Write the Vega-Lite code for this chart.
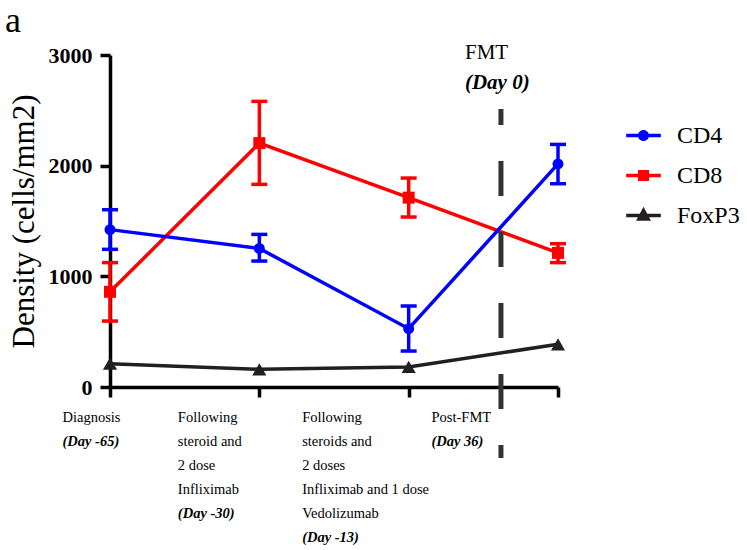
{
  "$schema": "https://vega.github.io/schema/vega-lite/v6.json",
  "width": 448,
  "height": 332,
  "autosize": "none",
  "padding": {"left": 110, "top": 55, "right": 189, "bottom": 163},
  "background": "white",
  "config": {
    "view": {"stroke": null},
    "font": "Liberation Serif",
    "axis": {"labelFont": "Liberation Serif", "titleFont": "Liberation Serif"},
    "legend": {"labelFont": "Liberation Serif", "labelFontSize": 24, "labelColor": "black"},
    "style": {"guide-label": {"font": "Liberation Serif"}, "guide-title": {"font": "Liberation Serif"}},
    "text": {"font": "Liberation Serif"}
  },
  "data": {
    "values": [
      {"series": "FoxP3", "stage": 0, "mean": 211},
      {"series": "FoxP3", "stage": 1, "mean": 160},
      {"series": "FoxP3", "stage": 2, "mean": 181},
      {"series": "FoxP3", "stage": 3, "mean": 386},
      {"series": "CD8", "stage": 0, "mean": 860, "lo": 596, "hi": 1124},
      {"series": "CD8", "stage": 1, "mean": 2204, "lo": 1831, "hi": 2581},
      {"series": "CD8", "stage": 2, "mean": 1711, "lo": 1536, "hi": 1888},
      {"series": "CD8", "stage": 3, "mean": 1212, "lo": 1124, "hi": 1295},
      {"series": "CD4", "stage": 0, "mean": 1422, "lo": 1244, "hi": 1602},
      {"series": "CD4", "stage": 1, "mean": 1252, "lo": 1138, "hi": 1379},
      {"series": "CD4", "stage": 2, "mean": 527, "lo": 325, "hi": 732},
      {"series": "CD4", "stage": 3, "mean": 2016, "lo": 1837, "hi": 2192}
    ]
  },
  "layer": [
    {
      "mark": {"type": "line", "strokeWidth": 3.5},
      "encoding": {
        "x": {
          "field": "stage", "type": "quantitative",
          "scale": {"domain": [0, 3], "nice": false, "zero": false},
          "axis": {
            "orient": "bottom", "values": [0, 1, 2, 3], "title": null, "grid": false,
            "domainColor": "black", "domainWidth": 3.5,
            "tickColor": "black", "tickWidth": 3.5, "tickSize": 10,
            "labelFont": "Liberation Serif", "labelFontSize": 14.5, "labelColor": "black",
            "labelAlign": "left", "labelBaseline": "top", "labelPadding": 13, "labelLineHeight": 24,
            "labelFlush": false, "labelOverlap": false, "labelBound": false,
            "labelOffset": {"condition": [{"test": "datum.value == 0", "value": -48}, {"test": "datum.value == 1", "value": -82}, {"test": "datum.value == 2", "value": -107}], "value": -127},
            "labelExpr": "datum.value == 0 ? 'Diagnosis' : datum.value == 1 ? ['Following','steroid and','2 dose','Infliximab'] : datum.value == 2 ? ['Following','steroids and','2 doses','Infliximab and 1 dose','Vedolizumab'] : 'Post-FMT'"
          }
        },
        "y": {
          "field": "mean", "type": "quantitative",
          "scale": {"domain": [0, 3000], "nice": false},
          "axis": {
            "values": [0, 1000, 2000, 3000], "format": "d", "title": "Density (cells/mm2)", "grid": false,
            "titleFont": "Liberation Serif", "titleFontSize": 31, "titleFontWeight": "normal", "titleColor": "black", "titlePadding": 8,
            "labelFont": "Liberation Serif", "labelFontSize": 22, "labelFontWeight": "bold", "labelColor": "black", "labelPadding": 8,
            "tickSize": 10, "tickWidth": 3.5, "tickColor": "black",
            "domainColor": "black", "domainWidth": 3.5
          }
        },
        "color": {
          "field": "series", "type": "nominal",
          "scale": {"domain": ["CD4", "CD8", "FoxP3"], "range": ["#0000ff", "#ff0000", "#231f20"]},
          "legend": null
        }
      }
    },
    {
      "transform": [{"filter": "isValid(datum.lo)"}],
      "mark": {"type": "errorbar", "thickness": 3.5, "opacity": 1, "ticks": {"size": 16, "thickness": 3.5, "opacity": 1}, "rule": {"opacity": 1}},
      "encoding": {
        "x": {"field": "stage", "type": "quantitative", "axis": null},
        "y": {"field": "lo", "type": "quantitative", "axis": null},
        "y2": {"field": "hi"},
        "color": {
          "field": "series", "type": "nominal",
          "scale": {"domain": ["CD4", "CD8", "FoxP3"], "range": ["#0000ff", "#ff0000", "#231f20"]},
          "legend": null
        }
      }
    },
    {
      "transform": [{"filter": "datum.series == 'FoxP3'"}],
      "mark": {"type": "point", "filled": true, "opacity": 1, "shape": "triangle-up", "size": 200, "color": "#231f20"},
      "encoding": {
        "x": {"field": "stage", "type": "quantitative", "axis": null},
        "y": {"field": "mean", "type": "quantitative", "axis": null}
      }
    },
    {
      "transform": [{"filter": "datum.series == 'CD8'"}],
      "mark": {"type": "point", "filled": true, "opacity": 1, "shape": "square", "size": 144, "color": "#ff0000"},
      "encoding": {
        "x": {"field": "stage", "type": "quantitative", "axis": null},
        "y": {"field": "mean", "type": "quantitative", "axis": null}
      }
    },
    {
      "transform": [{"filter": "datum.series == 'CD4'"}],
      "mark": {"type": "point", "filled": true, "opacity": 1, "shape": "circle", "size": 120, "color": "#0000ff"},
      "encoding": {
        "x": {
          "field": "stage", "type": "quantitative",
          "axis": {
            "orient": "bottom", "values": [0, 1, 2, 3], "title": null, "grid": false,
            "domain": false, "tickOpacity": 0, "tickSize": 10,
            "labelFont": "Liberation Serif", "labelFontSize": 14.5, "labelFontStyle": "italic", "labelFontWeight": "bold", "labelColor": "black",
            "labelAlign": "left", "labelBaseline": "top",
            "labelPadding": {"condition": [{"test": "datum.value == 1", "value": 109}, {"test": "datum.value == 2", "value": 133}], "value": 37},
            "labelFlush": false, "labelOverlap": false, "labelBound": false,
            "labelOffset": {"condition": [{"test": "datum.value == 0", "value": -48}, {"test": "datum.value == 1", "value": -82}, {"test": "datum.value == 2", "value": -107}], "value": -127},
            "labelExpr": "datum.value == 0 ? '(Day -65)' : datum.value == 1 ? '(Day -30)' : datum.value == 2 ? '(Day -13)' : '(Day 36)'"
          }
        },
        "y": {"field": "mean", "type": "quantitative", "axis": null}
      }
    },
    {
      "transform": [{"filter": "false"}],
      "mark": {"type": "point", "filled": true, "opacity": 1},
      "encoding": {
        "x": {"field": "stage", "type": "quantitative", "axis": null},
        "y": {"field": "mean", "type": "quantitative", "axis": null},
        "color": {
          "field": "series", "type": "nominal",
          "scale": {"domain": ["CD4", "CD8", "FoxP3"], "range": ["#0000ff", "#ff0000", "#231f20"]},
          "legend": {
            "orient": "none", "legendX": 516, "legendY": 63, "title": null, "padding": 0,
            "labelFont": "Liberation Serif", "labelFontSize": 24, "labelColor": "black", "labelOffset": 16,
            "rowPadding": 10, "symbolSize": 1200, "symbolStrokeWidth": 0, "symbolOpacity": 1
          }
        },
        "shape": {
          "field": "series", "type": "nominal",
          "scale": {"domain": ["CD4", "CD8", "FoxP3"], "range": [
            "M-1,-0.1H1V0.1H-1ZM0.32,0A0.32,0.32 0 1,1 -0.32,0A0.32,0.32 0 1,1 0.32,0Z",
            "M-1,-0.1H1V0.1H-1ZM-0.32,-0.32H0.32V0.32H-0.32Z",
            "M-1,-0.1H1V0.1H-1ZM0,-0.5L0.43,0.3H-0.43Z"
          ]},
          "legend": {
            "orient": "none", "legendX": 516, "legendY": 63, "title": null, "padding": 0,
            "labelFont": "Liberation Serif", "labelFontSize": 24, "labelColor": "black", "labelOffset": 16,
            "rowPadding": 10, "symbolSize": 1200, "symbolStrokeWidth": 0, "symbolOpacity": 1
          }
        }
      }
    },
    {
      "data": {"values": [{"event": "FMT", "stage": 2.618}]},
      "mark": {"type": "rule", "strokeWidth": 5, "color": "#333333", "strokeDash": [35, 36], "strokeDashOffset": 19},
      "encoding": {
        "x": {"field": "stage", "type": "quantitative", "axis": null},
        "y": {"datum": 2512, "type": "quantitative", "axis": null},
        "y2": {"datum": -642}
      }
    },
    {
      "data": {"values": [{"event": "FMT", "stage": 2.377}]},
      "mark": {"type": "text", "font": "Liberation Serif", "fontSize": 21, "align": "left", "baseline": "alphabetic", "color": "black"},
      "encoding": {
        "x": {"field": "stage", "type": "quantitative", "axis": null},
        "y": {"datum": 2961, "type": "quantitative", "axis": null},
        "text": {"field": "event"}
      }
    },
    {
      "data": {"values": [{"day": "(Day 0)", "stage": 2.377}]},
      "mark": {"type": "text", "font": "Liberation Serif", "fontSize": 21, "fontStyle": "italic", "fontWeight": "bold", "align": "left", "baseline": "alphabetic", "color": "black"},
      "encoding": {
        "x": {"field": "stage", "type": "quantitative", "axis": null},
        "y": {"datum": 2690, "type": "quantitative", "axis": null},
        "text": {"field": "day"}
      }
    },
    {
      "data": {"values": [{"panel": "a"}]},
      "mark": {"type": "text", "font": "Liberation Serif", "fontSize": 36, "align": "left", "baseline": "alphabetic", "color": "black"},
      "encoding": {
        "x": {"datum": -0.703, "type": "quantitative", "axis": null},
        "y": {"datum": 3211, "type": "quantitative", "axis": null},
        "text": {"field": "panel"}
      }
    }
  ],
  "resolve": {
    "scale": {"color": "independent", "shape": "independent"},
    "axis": {"x": "independent", "y": "independent"}
  }
}
